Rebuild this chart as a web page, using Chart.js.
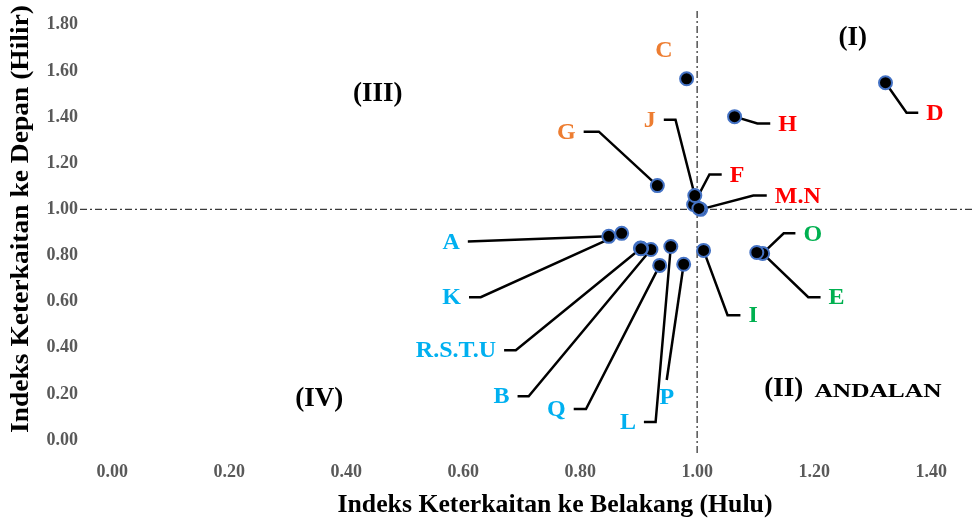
<!DOCTYPE html>
<html>
<head>
<meta charset="utf-8">
<script src="https://cdn.jsdelivr.net/npm/chart.js@4.4.0/dist/chart.umd.min.js"></script>
<style>
  html, body { margin: 0; padding: 0; background: #fff; }
  #wrap { width: 975px; height: 521px; }
</style>
</head>
<body>
<div id="wrap"><canvas id="chart" width="975" height="521"></canvas></div>
<script>
// sector codes and their linkage indices
const sectors = ['A','B','C','D','E','F','G','H','I','J','K','L','M','N','O','P','Q','R','S','T','U'];
const backwardLinkage = [0.849,0.921,0.982,1.322,1.112,0.994,0.932,1.064,1.011,0.996,0.871,0.955,1.006,1.003,1.102,0.977,0.936,0.904,0.905,0.903,0.904];
const forwardLinkage  = [0.883,0.826,1.566,1.549,0.809,1.021,1.103,1.402,0.822,1.060,0.896,0.839,1.000,1.004,0.813,0.762,0.757,0.831,0.830,0.832,0.829];
const xTicks = [0, 0.2, 0.4, 0.6, 0.8, 1.0, 1.2, 1.4];
const yTicks = [0, 0.2, 0.4, 0.6, 0.8, 1.0, 1.2, 1.4, 1.6, 1.8];
const threshold = 1.0;
const xTitle = 'Indeks Keterkaitan ke Belakang (Hulu)';
const yTitle = 'Indeks Keterkaitan ke Depan (Hilir)';

const ORANGE = '#ED7D31', RED = '#FF0000', GREEN = '#00B050', BLUE = '#00B0F0';
const FONT = '"Liberation Serif", "Times New Roman", serif';

// callout layout: leader path in axis units, label placed at the end of the path
const labelLayout = [
  { text: 'C',       of: 'C', path: [], at: [0.943, 1.688], align: 'center', color: ORANGE },
  { text: 'G',       of: 'G', path: [[0.832, 1.337], [0.806, 1.337]], align: 'left',  color: ORANGE },
  { text: 'J',       of: 'J', path: [[0.963, 1.389], [0.943, 1.389]], align: 'left',  color: ORANGE },
  { text: 'H',       of: 'H', path: [[1.103, 1.372], [1.125, 1.372]], align: 'right', color: RED },
  { text: 'D',       of: 'D', path: [[1.358, 1.419], [1.378, 1.419]], align: 'right', color: RED },
  { text: 'F',       of: 'F', path: [[1.021, 1.151], [1.042, 1.151]], align: 'right', color: RED },
  { text: 'M.N',     of: 'M', path: [[1.096, 1.060], [1.119, 1.060]], align: 'right', color: RED },
  { text: 'O',       of: 'E', path: [[1.148, 0.896], [1.168, 0.896]], align: 'right', color: GREEN },
  { text: 'E',       of: 'E', path: [[1.190, 0.619], [1.211, 0.619]], align: 'right', color: GREEN },
  { text: 'I',       of: 'I', path: [[1.052, 0.541], [1.074, 0.541]], align: 'right', color: GREEN },
  { text: 'A',       of: 'A', path: [[0.608, 0.861]], align: 'left', color: BLUE },
  { text: 'K',       of: 'K', path: [[0.630, 0.619], [0.610, 0.619]], align: 'left', color: BLUE },
  { text: 'R.S.T.U', of: 'R', path: [[0.690, 0.389], [0.670, 0.389]], align: 'left', color: BLUE },
  { text: 'B',       of: 'B', path: [[0.712, 0.190], [0.693, 0.190]], align: 'left', color: BLUE },
  { text: 'Q',       of: 'Q', path: [[0.810, 0.134], [0.789, 0.134]], align: 'left', color: BLUE },
  { text: 'L',       of: 'L', path: [[0.929, 0.078], [0.909, 0.078]], align: 'left', color: BLUE },
  { text: 'P',       of: 'P', path: [[0.948, 0.260]], align: 'below', color: BLUE }
];

const quadrantLabels = [
  { text: '(I)',   at: [1.266, 1.744] },
  { text: '(III)', at: [0.454, 1.502] },
  { text: '(IV)',  at: [0.354, 0.177] },
  { text: '(II)',  at: [1.148, 0.221] }
];

const points = sectors.map((s, i) => ({ x: backwardLinkage[i], y: forwardLinkage[i] }));

// draw text centred on (cx, cy), stretched horizontally to the given width
function fitText(ctx, text, cx, cy, width) {
  const w = ctx.measureText(text).width;
  ctx.save();
  ctx.translate(cx, cy);
  ctx.scale(width / w, 1);
  ctx.textAlign = 'center';
  ctx.fillText(text, 0, 0);
  ctx.restore();
}

const overlay = {
  id: 'overlay',
  beforeDatasetsDraw(chart) {
    const { ctx, chartArea: a, scales: { x, y } } = chart;
    ctx.save();
    // dash-dot reference lines at index = 1
    ctx.strokeStyle = '#3a3a3a';
    ctx.lineWidth = 1.3;
    ctx.setLineDash([7, 3, 2, 3]);
    const px = x.getPixelForValue(threshold), py = y.getPixelForValue(threshold);
    ctx.beginPath();
    ctx.moveTo(px, a.top); ctx.lineTo(px, a.bottom);
    ctx.moveTo(a.left, py); ctx.lineTo(a.right, py);
    ctx.stroke();
    ctx.setLineDash([]);

    // leader lines
    ctx.strokeStyle = '#000';
    ctx.lineWidth = 2.5;
    labelLayout.forEach(l => {
      if (!l.path.length) return;
      const i = sectors.indexOf(l.of);
      ctx.beginPath();
      ctx.moveTo(x.getPixelForValue(backwardLinkage[i]), y.getPixelForValue(forwardLinkage[i]));
      l.path.forEach(p => ctx.lineTo(x.getPixelForValue(p[0]), y.getPixelForValue(p[1])));
      ctx.stroke();
    });
    ctx.restore();
  },
  afterDatasetsDraw(chart) {
    const { ctx, scales: { x, y } } = chart;
    ctx.save();
    ctx.textBaseline = 'middle';

    // sector labels
    ctx.font = 'bold 24px ' + FONT;
    labelLayout.forEach(l => {
      ctx.fillStyle = l.color;
      if (l.align === 'center') {
        ctx.textAlign = 'center';
        ctx.fillText(l.text, x.getPixelForValue(l.at[0]), y.getPixelForValue(l.at[1]));
        return;
      }
      const end = l.path[l.path.length - 1];
      const ex = x.getPixelForValue(end[0]), ey = y.getPixelForValue(end[1]);
      if (l.align === 'left') {
        ctx.textAlign = 'right';
        ctx.fillText(l.text, ex - 8, ey + 1);
      } else if (l.align === 'right') {
        ctx.textAlign = 'left';
        ctx.fillText(l.text, ex + 8, ey + 1);
      } else {
        ctx.textAlign = 'center';
        ctx.fillText(l.text, ex, ey + 18);
      }
    });

    // quadrant labels
    ctx.fillStyle = '#000';
    ctx.font = 'bold 27px ' + FONT;
    ctx.textAlign = 'center';
    quadrantLabels.forEach(q => ctx.fillText(q.text, x.getPixelForValue(q.at[0]), y.getPixelForValue(q.at[1])));
    ctx.font = 'bold 18px ' + FONT;
    fitText(ctx, 'ANDALAN', 878, y.getPixelForValue(0.207), 127);

    // axis titles
    ctx.font = 'bold 25px ' + FONT;
    fitText(ctx, xTitle, 555, 506, 435);
    ctx.translate(22, 219);
    ctx.rotate(-Math.PI / 2);
    fitText(ctx, yTitle, 0, 0, 428);
    ctx.restore();
  }
};

const tickFont = { family: FONT, size: 18, weight: 'bold' };

new Chart(document.getElementById('chart'), {
  type: 'scatter',
  data: {
    datasets: [{
      label: 'Sektor',
      data: points,
      pointRadius: 6.5,
      pointHoverRadius: 6.5,
      pointBackgroundColor: '#000',
      pointBorderColor: '#4472C4',
      pointBorderWidth: 2
    }]
  },
  options: {
    responsive: false,
    devicePixelRatio: 1,
    animation: false,
    layout: { autoPadding: false, padding: { top: 11, right: 0, left: 0, bottom: 0 } },
    plugins: {
      legend: { display: false },
      tooltip: { enabled: false }
    },
    scales: {
      x: {
        type: 'linear',
        min: -0.055,
        max: 1.475,
        grid: { display: false, drawTicks: false },
        border: { display: false },
        afterBuildTicks: s => { s.ticks = xTicks.map(v => ({ value: v })); },
        afterFit: s => { s.height = 66; s.paddingLeft = 0; s.paddingRight = 0; },
        ticks: {
          padding: 7,
          color: '#595959',
          font: tickFont,
          maxRotation: 0,
          autoSkip: false,
          callback: v => Number(v).toFixed(2)
        }
      },
      y: {
        type: 'linear',
        min: -0.065,
        max: 1.86,
        grid: { display: false, drawTicks: false },
        border: { display: false },
        afterBuildTicks: s => { s.ticks = yTicks.map(v => ({ value: v })); },
        afterFit: s => { s.width = 80; s.paddingTop = 0; s.paddingBottom = 0; },
        ticks: {
          padding: 2,
          color: '#595959',
          font: tickFont,
          autoSkip: false,
          callback: v => Number(v).toFixed(2)
        }
      }
    }
  },
  plugins: [overlay]
});
</script>
</body>
</html>
